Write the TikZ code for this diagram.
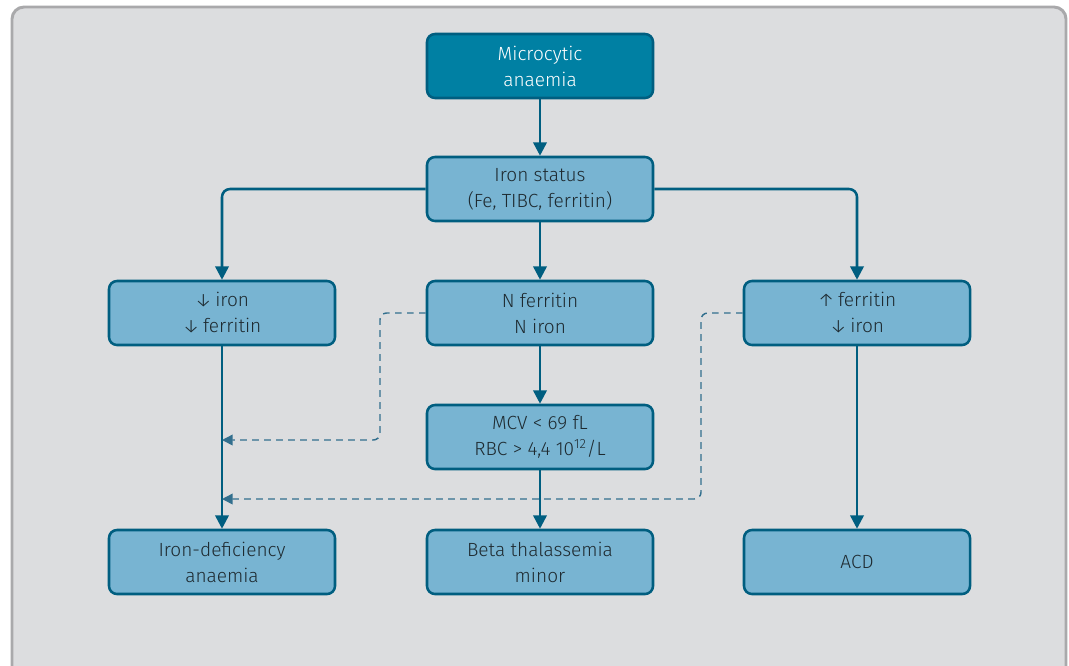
\documentclass[tikz,border=0pt]{standalone}
\usepackage{fontspec}
\setmainfont{Fira Sans}[UprightFont=* Light]
\usetikzlibrary{arrows.meta}
\definecolor{bgc}{HTML}{DCDDDF}
\definecolor{framec}{HTML}{A9A9AB}
\definecolor{linec}{HTML}{005E80}
\definecolor{dashc}{HTML}{326F8E}
\definecolor{boxc}{HTML}{78B4D2}
\definecolor{topc}{HTML}{0080A3}
\definecolor{txtc}{HTML}{1E2A30}
\tikzset{
  box/.style={draw=linec, line width=1.9pt, fill=boxc, rounded corners=6pt,
    minimum width=169.5pt, minimum height=48pt, align=center, text=txtc,
    font=\fontsize{14.3}{19.5}\selectfont, inner sep=0pt},
  topbox/.style={box, fill=topc, text=white},
  arr/.style={draw=linec, line width=1.9pt, rounded corners=6pt,
    -{Triangle[length=10pt,width=10pt]}},
  darr/.style={draw=dashc, line width=1.1pt, rounded corners=5pt,
    dash pattern=on 5pt off 4pt, -{Triangle[length=8pt,width=8pt]}}
}
\newcommand{\dnA}{↓\,}
\newcommand{\upA}{↑\,}
\begin{document}
\begin{tikzpicture}[x=0.75pt,y=-0.75pt]
\useasboundingbox (0,0) rectangle (1069,665);
\begin{scope}
\clip (0,0) rectangle (1069,665);
\fill[white] (0,0) rectangle (1069,665);
\draw[framec, line width=2.2pt, fill=bgc, rounded corners=9pt] (12,7) rectangle (1066,720);
\end{scope}

\node[topbox] (mic) at (540,66) {Microcytic\\anaemia};
\node[box] (is) at (540,189) {Iron status\\(Fe, TIBC, ferritin)};
\node[box] (low) at (222,313) {\dnA iron\\\dnA ferritin};
\node[box] (nf) at (540,313) {N ferritin\\N iron};
\node[box] (hf) at (857,313) {\upA ferritin\\\dnA iron};
\node[box] (mcv) at (540,437) {MCV < 69 fL\\RBC > 4,4 10\textsuperscript{12}/L};
\node[box] (ida) at (222,562) {Iron-deficiency\\anaemia};
\node[box] (bt) at (540,562) {Beta thalassemia\\minor};
\node[box] (acd) at (857,562) {ACD};

\coordinate (d1) at (380,440);
\coordinate (e1) at (222,440);
\coordinate (d2) at (701,499);
\coordinate (e2) at (222,499);

\draw[arr] (mic) -- (is);
\draw[arr] (is.west) -| (low.north);
\draw[arr] (is.east) -| (hf.north);
\draw[arr] (is) -- (nf);
\draw[arr] (nf) -- (mcv);
\draw[arr] (mcv) -- (bt);
\draw[arr] (low) -- (ida);
\draw[arr] (hf) -- (acd);
\draw[darr] (nf.west) -| (d1) -- (e1);
\draw[darr] (hf.west) -| (d2) -- (e2);
\end{tikzpicture}
\end{document}
